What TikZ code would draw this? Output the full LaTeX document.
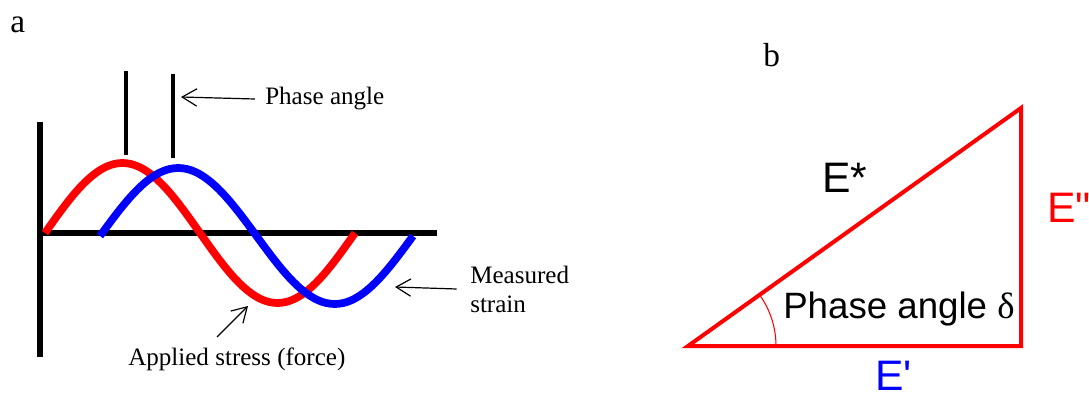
\documentclass[tikz,border=0pt]{standalone}
\usepackage{fontspec}
\setmainfont{Liberation Serif}
\setsansfont{Liberation Sans}
\usepackage{xcolor}
\usetikzlibrary{positioning, arrows.meta}
\definecolor{cStress}{HTML}{FF0000}
\definecolor{cStrain}{HTML}{0000FF}
\definecolor{cText}  {HTML}{000000}

\begin{document}
\begin{tikzpicture}[x=0.75pt, y=-0.75pt,
    barb/.style={-{Straight Barb[length=11pt, width=13pt]}, line width=0.9pt, draw=cText},
    serlbl/.style={font=\fontsize{18.8}{21.75}\selectfont, text=cText, inner sep=0pt},
    panellbl/.style={font=\fontsize{25}{30}\selectfont, text=cText, inner sep=0pt, anchor=base west},
    sanslbl/.style={font=\sffamily\fontsize{32}{36}\selectfont, inner sep=0pt, anchor=base west}]
  \useasboundingbox (0,0) rectangle (1089,399);
  % panel a: axes and waves
  \node[panellbl] (lblA) at (10,33) {a};
  \draw[line width=4.5pt, draw=cText] (40,122) -- (40,357);
  \draw[line width=4.5pt, draw=cText] (40,233) -- (437,233);
  \draw[line width=5.8pt, draw=cStress]
        plot[domain=0:360, samples=73, smooth] ({45 + \x/360*310}, {233 - 70*sin(\x)});
  \draw[line width=5.8pt, draw=cStrain]
        plot[domain=0:360, samples=73, smooth] ({100 + \x/360*313}, {236 - 68*sin(\x)});
  % peak markers
  \draw[line width=3pt, draw=cText] (126,71) -- (126,155);
  \draw[line width=3pt, draw=cText] (173,74) -- (173,158);
  \coordinate (tickB) at (181,97);
  \node[serlbl, anchor=base west] (phase) at (265,105) {Phase angle};
  \draw[barb] ([xshift=-7.5pt]phase.west) -- (tickB);
  % labels for the two waves
  \node[serlbl, anchor=west, align=left] (strain) at (470,289) {Measured\\strain};
  \coordinate (strainEnd) at (395,287);
  \draw[barb] ([xshift=-10pt]strain.west) -- (strainEnd);
  \node[serlbl, anchor=base west] (stress) at (128,365) {Applied stress (force)};
  \coordinate (stressTail) at (217,337);
  \coordinate (stressEnd) at (248,306);
  \draw[barb] (stressTail) -- (stressEnd);
  % panel b: modulus triangle
  \node[panellbl] (lblB) at (763,67) {b};
  \coordinate (origin) at (688,346);
  \coordinate (corner) at (1021,346);
  \coordinate (apex)   at (1021,108);
  \draw[line width=3pt, draw=cStress, line join=miter] (origin) -- (corner) -- (apex) -- cycle;
  \draw[line width=0.8pt, draw=cStress] ([xshift=66pt]origin) arc[start angle=0, end angle=35.6, radius=66pt];
  \node[sanslbl, text=cText] (eStar) at (822,193) {E*};
  \node[sanslbl, text=cStress] (eLoss) at (1047,223) {E\textquotedbl};
  \node[sanslbl, text=cStrain] (eStore) at (875,390) {E\textquotesingle};
  \node[sanslbl, text=cText, font=\sffamily\fontsize{27.5}{30}\selectfont] (delta) at (783,318)
        {Phase angle {\rmfamily δ}};
\end{tikzpicture}
\end{document}
